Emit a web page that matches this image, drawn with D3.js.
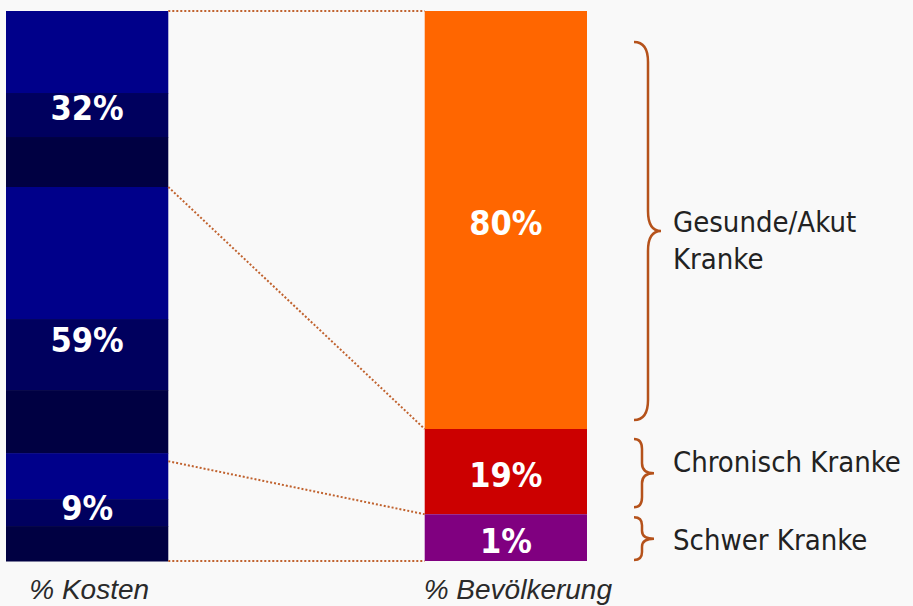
<!DOCTYPE html>
<html>
<head>
<meta charset="utf-8">
<script src="https://cdn.jsdelivr.net/npm/d3@7"></script>
<style>
  body { margin: 0; background: #f9f9f9; }
  svg { display: block; font-family: "DejaVu Sans Condensed", "DejaVu Sans", sans-serif; font-stretch: condensed; }
  .pct { fill: #fff; font-weight: bold; font-size: 34px; text-anchor: middle; }
  .group { fill: #222; font-size: 29px; }
  .axis text { fill: #2a2a2a; font-size: 28px; font-style: italic; }
</style>
</head>
<body>
<svg id="chart"></svg>
<script>
// bars, top segment first
const bars = ["% Kosten", "% Bevölkerung"];

// cost share per group (labels) and how tall each segment is drawn in the picture
const costValues = [32, 59, 9];
const costDrawn = [32, 48.4, 19.6];

// population share per group and the drawn segment heights
const popValues = [80, 19, 1];
const popDrawn = [76, 15.5, 8.5];
const popColors = ["#ff6600", "#cc0000", "#800080"];

const groups = [["Gesunde/Akut", "Kranke"], ["Chronisch Kranke"], ["Schwer Kranke"]];

const width = 913;
const height = 606;
const margin = { top: 11, right: 326, bottom: 45, left: 6 };

const svg = d3.select("#chart")
  .attr("width", width)
  .attr("height", height);

svg.append("rect")
  .attr("width", width)
  .attr("height", height)
  .attr("fill", "#f9f9f9");

const xScale = d3.scaleBand()
  .domain(bars)
  .range([margin.left, width - margin.right])
  .paddingInner(0.6124)
  .paddingOuter(0);

const yScale = d3.scaleLinear()
  .domain([0, 100])
  .range([height - margin.bottom, margin.top]);

// stack from the top: cumulative start/end in percent
function stackTop(drawn) {
  let acc = 100;
  return drawn.map(d => {
    const seg = { top: acc, bottom: acc - d };
    acc -= d;
    return seg;
  });
}

const costSegs = stackTop(costDrawn);
const popSegs = stackTop(popDrawn);
const bw = xScale.bandwidth();

// left bar: each segment shaded in three blue bands (split points per segment)
const bandColors = ["#00008a", "#00005e", "#000042"];
const bandSplits = [[0.466, 0.716], [0.496, 0.763], [0.426, 0.676]];

const costG = svg.append("g");
costSegs.forEach((s, i) => {
  const y0 = yScale(s.top);
  const y1 = yScale(s.bottom);
  const cuts = [0].concat(bandSplits[i], [1]);
  costG.selectAll(null)
    .data(bandColors)
    .enter()
    .append("rect")
    .attr("x", xScale(bars[0]))
    .attr("y", (c, j) => y0 + cuts[j] * (y1 - y0))
    .attr("width", bw)
    .attr("height", (c, j) => (cuts[j + 1] - cuts[j]) * (y1 - y0) + 0.5)
    .attr("fill", c => c);

  costG.append("text")
    .attr("class", "pct")
    .attr("x", xScale(bars[0]) + bw / 2)
    .attr("y", y0 + 0.62 * (y1 - y0))
    .text(costValues[i] + "%");
});

// right bar
const popG = svg.append("g");
popG.selectAll("rect")
  .data(popSegs)
  .enter()
  .append("rect")
  .attr("x", xScale(bars[1]))
  .attr("y", d => yScale(d.top))
  .attr("width", bw)
  .attr("height", d => yScale(d.bottom) - yScale(d.top))
  .attr("fill", (d, i) => popColors[i]);

popG.selectAll("text")
  .data(popSegs)
  .enter()
  .append("text")
  .attr("class", "pct")
  .attr("x", xScale(bars[1]) + bw / 2)
  .attr("y", d => (yScale(d.top) + yScale(d.bottom)) / 2 + 15)
  .text((d, i) => popValues[i] + "%");

// dotted connectors between segment boundaries
const costBounds = [100].concat(costSegs.map(s => s.bottom));
const popBounds = [100].concat(popSegs.map(s => s.bottom));
svg.append("g")
  .selectAll("line")
  .data(d3.zip(costBounds, popBounds))
  .enter()
  .append("line")
  .attr("x1", xScale(bars[0]) + bw)
  .attr("x2", xScale(bars[1]))
  .attr("y1", (d, i) => yScale(d[0]) + (i === 2 ? 8 : 0))
  .attr("y2", d => yScale(d[1]))
  .attr("stroke", "#c0622e")
  .attr("stroke-width", 2)
  .attr("stroke-dasharray", "2,2");

// braces to the right of the population bar
const braceX = xScale(bars[1]) + bw + 47;
const bracePad = [[31, 9], [10, 7], [3, 1]];
const braceSize = [{ v: 14, t: 27, r: 20 }, { v: 8, t: 20, r: 10 }, { v: 8, t: 20, r: 8 }];
const labelDy = [1, -1, 11];

function bracePath(y0, y1, s) {
  const xv = braceX + s.v, xt = braceX + s.t, ym = (y0 + y1) / 2, r = s.r;
  return `M${braceX},${y0} Q${xv},${y0} ${xv},${y0 + r} L${xv},${ym - r} Q${xv},${ym} ${xt},${ym}` +
    ` Q${xv},${ym} ${xv},${ym + r} L${xv},${y1 - r} Q${xv},${y1} ${braceX},${y1}`;
}

const braceG = svg.append("g");
popSegs.forEach((s, i) => {
  const y0 = yScale(s.top) + bracePad[i][0];
  const y1 = yScale(s.bottom) - bracePad[i][1];
  braceG.append("path")
    .attr("d", bracePath(y0, y1, braceSize[i]))
    .attr("fill", "none")
    .attr("stroke", "#b5521b")
    .attr("stroke-width", 2.5);

  const label = braceG.append("text")
    .attr("class", "group")
    .attr("x", braceX + 39)
    .attr("y", (y0 + y1) / 2 + labelDy[i]);
  label.selectAll("tspan")
    .data(groups[i])
    .enter()
    .append("tspan")
    .attr("x", braceX + 39)
    .attr("dy", (d, j) => j === 0 ? 0 : 37)
    .text(d => d);
});

// bar names along the bottom
svg.append("g")
  .attr("class", "axis")
  .attr("transform", `translate(0, ${height - margin.bottom})`)
  .call(d3.axisBottom(xScale).tickSize(0).tickPadding(18))
  .call(g => g.select(".domain").remove())
  .selectAll("text")
  .attr("dy", "0.71em")
  .attr("dx", (d, i) => i === 0 ? 2 : 12);
</script>
</body>
</html>
